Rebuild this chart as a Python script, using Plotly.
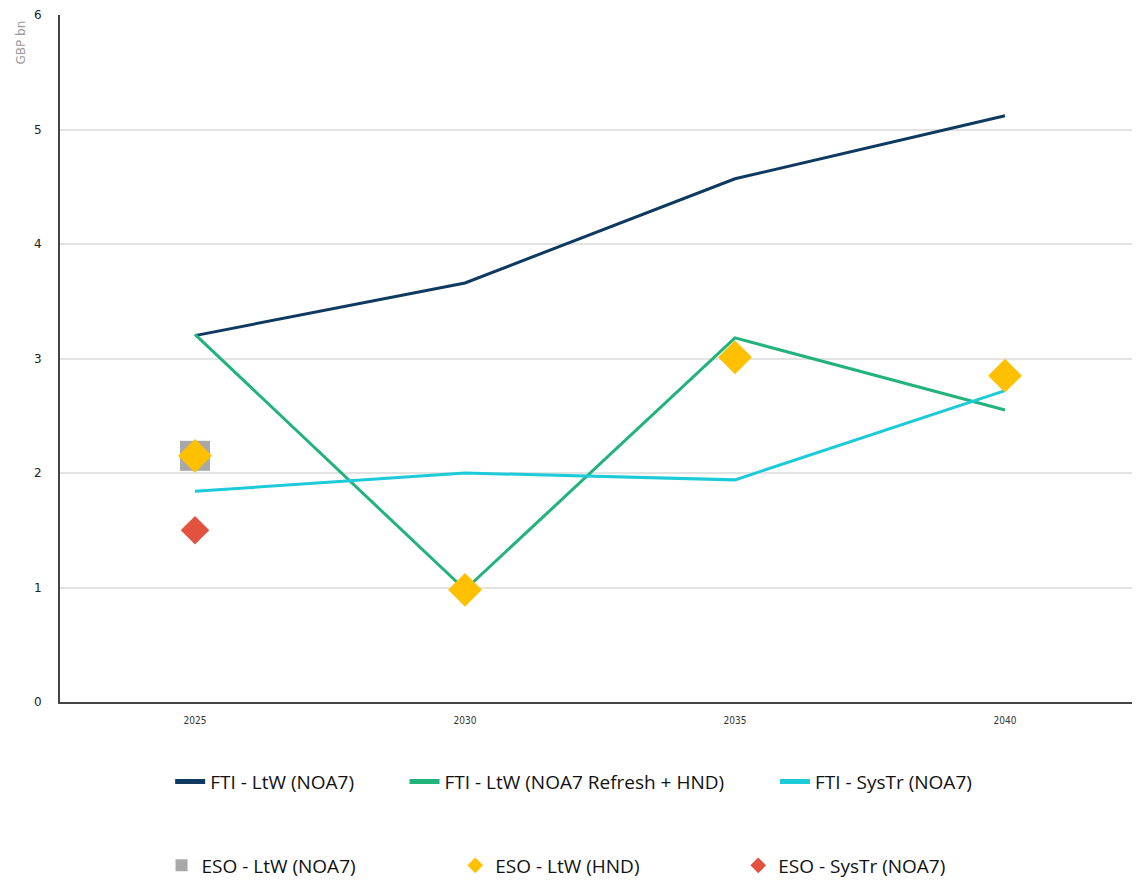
import plotly.graph_objects as go

years = ["2025", "2030", "2035", "2040"]
fti_ltw_noa7 = [3.20, 3.66, 4.57, 5.12]
fti_ltw_refresh_hnd = [3.21, 0.98, 3.18, 2.55]
fti_systr_noa7 = [1.84, 2.00, 1.94, 2.72]
eso_ltw_noa7 = [2.15, None, None, None]
eso_ltw_hnd = [2.15, 0.98, 3.01, 2.85]
eso_systr_noa7 = [1.50, None, None, None]

fig = go.Figure()

# lines
fig.add_trace(go.Scatter(x=years, y=fti_ltw_noa7, mode="lines", name="FTI - LtW (NOA7)",
                         line=dict(color="#0F3A60", width=3), legend="legend"))
fig.add_trace(go.Scatter(x=years, y=fti_ltw_refresh_hnd, mode="lines", name="FTI - LtW (NOA7 Refresh + HND)",
                         line=dict(color="#22B37C", width=3), legend="legend2"))
fig.add_trace(go.Scatter(x=years, y=fti_systr_noa7, mode="lines", name="FTI - SysTr (NOA7)",
                         line=dict(color="#1CCAD8", width=3), legend="legend3"))

# markers
fig.add_trace(go.Scatter(x=years, y=eso_ltw_noa7, mode="markers", name="ESO - LtW (NOA7)",
                         marker=dict(symbol="square", size=30, color="#A8A8A8"), legend="legend4"))
fig.add_trace(go.Scatter(x=years, y=eso_ltw_hnd, mode="markers", name="ESO - LtW (HND)",
                         marker=dict(symbol="diamond", size=26, color="#FFC000"), legend="legend5"))
fig.add_trace(go.Scatter(x=years, y=eso_systr_noa7, mode="markers", name="ESO - SysTr (NOA7)",
                         marker=dict(symbol="diamond", size=22, color="#E2533F"), legend="legend6"))

leg_font = dict(family="Open Sans", size=19, color="#111111")
def leg(x, y):
    return dict(x=x, y=y, xanchor="left", yanchor="middle", orientation="h",
                font=leg_font, bgcolor="rgba(0,0,0,0)", itemsizing="constant")

# one legend per item so each entry sits where the reference has it
fig.update_layout(
    showlegend=True,
    legend=leg(0.102, -0.116),
    legend2=leg(0.319, -0.116),
    legend3=leg(0.662, -0.116),
    legend4=leg(0.094, -0.238),
    legend5=leg(0.366, -0.238),
    legend6=leg(0.628, -0.238),
)

# page body has an 8px margin, so the figure is a bit smaller than the window
fig.update_layout(
    width=1132, height=872,
    margin=dict(l=52, r=0, t=7, b=178, autoexpand=False),
    plot_bgcolor="white", paper_bgcolor="white",
    xaxis=dict(type="category", range=[-0.5, 3.5], showgrid=False,
               showline=True, linecolor="#444444", linewidth=2,
               tickfont=dict(family="DejaVu Sans Condensed", size=10, color="#333333"),
               ticks="", ticklabelstandoff=8),
    yaxis=dict(range=[0, 6], dtick=1, showgrid=True, gridcolor="#E3E3E3", gridwidth=2,
               showline=True, linecolor="#444444", linewidth=2, zeroline=False,
               tickfont=dict(family="DejaVu Sans", size=12, color="#222222"),
               ticks="", ticklabelstandoff=14),
    annotations=[dict(text="GBP bn", xref="paper", yref="paper", x=-0.036, y=0.995,
                      xanchor="center", yanchor="top", textangle=-90, showarrow=False,
                      font=dict(family="DejaVu Sans", size=12, color="#9A9A9A"))],
)

fig.write_html("out.html")
